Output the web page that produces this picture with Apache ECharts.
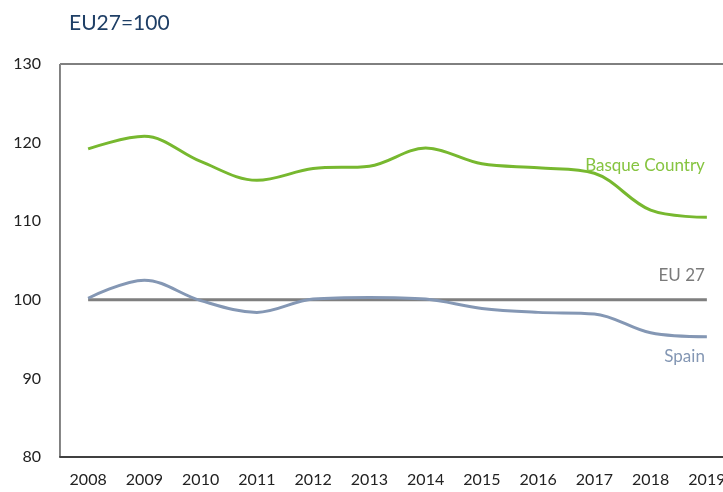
<!DOCTYPE html>
<html lang="en">
<head>
    <meta charset="UTF-8">
    <title>EU27=100</title>
    <script src="https://cdn.jsdelivr.net/npm/echarts@6/dist/echarts.min.js"></script>
    <style>
        * { margin: 0; padding: 0; }
        body { background: #fff; }
        #main { width: 723px; height: 492px; }
    </style>
</head>
<body>
    <div id="main"></div>
<script>
    // 数据
    var years = ['2008', '2009', '2010', '2011', '2012', '2013', '2014', '2015', '2016', '2017', '2018', '2019'];
    var basque = [119.2, 120.8, 117.6, 115.2, 116.7, 117.0, 119.3, 117.3, 116.8, 116.1, 111.4, 110.5];
    var spain = [100.2, 102.5, 99.9, 98.4, 100.1, 100.3, 100.1, 98.9, 98.4, 98.2, 95.8, 95.3];
    var eu27 = [100, 100, 100, 100, 100, 100, 100, 100, 100, 100, 100, 100];

    var fontFam = 'Lato, "Open Sans", sans-serif';
    var myChart = echarts.init(document.getElementById('main'));

    var option = {
        animation: false,
        title: {
            text: 'EU27=100',
            left: 64,
            top: 8,
            textStyle: { color: '#1f3f66', fontSize: 21, fontWeight: 'normal', fontFamily: fontFam }
        },
        grid: {
            left: 60, top: 64, right: -12, bottom: 35,
            outerBoundsMode: 'none',
            containLabel: false,
            show: true, borderColor: '#000', borderWidth: 1
        },
        xAxis: {
            type: 'category',
            data: years,
            axisLine: { lineStyle: { color: '#404040', width: 2 } },
            axisTick: { show: false },
            axisLabel: { color: '#222', fontSize: 16, margin: 15, fontFamily: fontFam }
        },
        yAxis: {
            type: 'value',
            min: 80, max: 130, interval: 10,
            axisLine: { show: true, lineStyle: { color: '#888', width: 1 } },
            axisTick: { show: false },
            splitLine: { show: false },
            axisLabel: { color: '#222', fontSize: 16, margin: 19, fontFamily: fontFam }
        },
        series: [
            {
                name: 'EU 27',
                type: 'line',
                data: eu27,
                symbol: 'none',
                lineStyle: { color: '#7f7f7f', width: 3 },
                endLabel: {
                    show: true, formatter: '{a}', color: '#7a7a7a', fontSize: 17, fontFamily: fontFam,
                    align: 'right', verticalAlign: 'middle', offset: [-10, -24]
                }
            },
            {
                name: 'Spain',
                type: 'line',
                data: spain,
                smooth: 0.35,
                symbol: 'none',
                lineStyle: { color: '#8497b4', width: 3 },
                endLabel: {
                    show: true, formatter: '{a}', color: '#8497b4', fontSize: 17, fontFamily: fontFam,
                    align: 'right', verticalAlign: 'middle', offset: [-10, 20]
                }
            },
            {
                name: 'Basque Country',
                type: 'line',
                data: basque,
                smooth: 0.35,
                symbol: 'none',
                lineStyle: { color: '#77b82f', width: 3 },
                endLabel: {
                    show: true, formatter: '{a}', color: '#86c440', fontSize: 17, fontFamily: fontFam,
                    align: 'right', verticalAlign: 'middle', offset: [-10, -52]
                }
            }
        ]
    };
    myChart.setOption(option);
</script>
</body>
</html>
